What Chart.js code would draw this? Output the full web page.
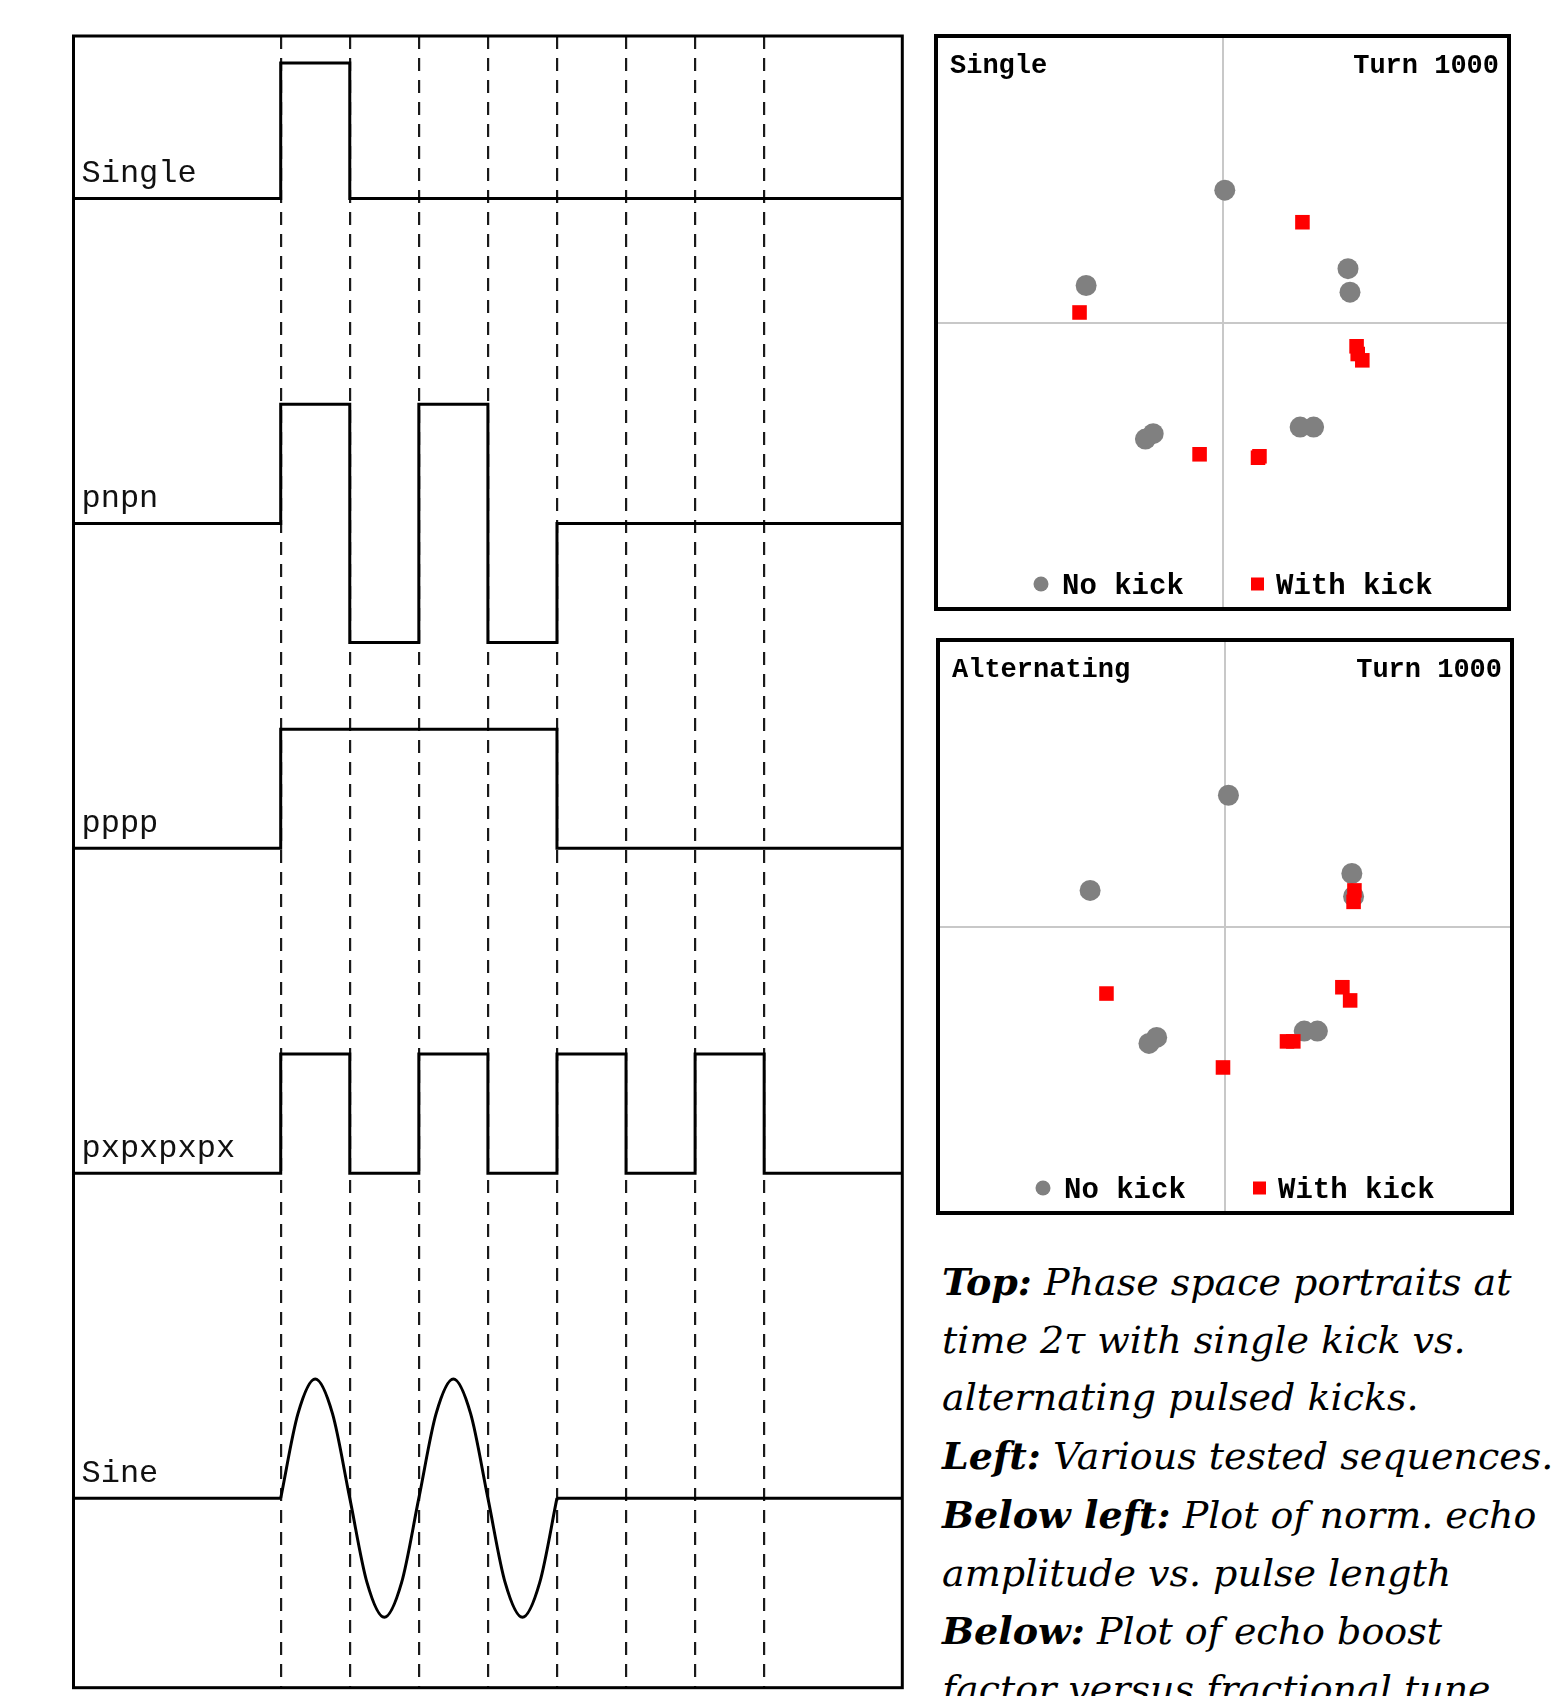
<!DOCTYPE html>
<html>
<head>
<meta charset="utf-8">
<script src="https://cdn.jsdelivr.net/npm/chart.js@4.4.1/dist/chart.umd.min.js"></script>
<style>
  html, body { margin: 0; padding: 0; background: #fff; overflow: hidden; }
  body { width: 1554px; height: 1696px; position: relative; }
  .box { position: absolute; }
  #seqBox { left: 70px; top: 32px; width: 836px; height: 1660px; }
  #singleBox { left: 932px; top: 32px; width: 581px; height: 581px; }
  #altBox { left: 934px; top: 636px; width: 582px; height: 581px; }
  #caption {
    position: absolute; left: 942px; top: 1253px;
    font: italic 38px "DejaVu Serif", serif;
    line-height: 57.7px; white-space: nowrap; color: #000;
  }
  #caption b { font-weight: bold; }
</style>
</head>
<body>
<div class="box" id="seqBox"><canvas id="seqChart"></canvas></div>
<div class="box" id="singleBox"><canvas id="singleChart"></canvas></div>
<div class="box" id="altBox"><canvas id="altChart"></canvas></div>
<div id="caption">
  <b>Top:</b> Phase space portraits at<br>
  time 2τ with single kick vs.<br>
  alternating pulsed kicks.<br>
  <b>Left:</b> Various tested sequences.<br>
  <b>Below left:</b> Plot of norm. echo<br>
  amplitude vs. pulse length<br>
  <b>Below:</b> Plot of echo boost<br>
  factor versus fractional tune.
</div>

<script>
// --- Pulse sequences (left panel) ---
// time slots: lead-in, seven pulse intervals between the dashed marks, tail
const SLOT_STARTS = [0, 3, 4, 5, 6, 7, 8, 9, 10];
const TIME_END = 12;
const DASH_TIMES = [3, 4, 5, 6, 7, 8, 9, 10];

const SEQ_NAMES = ['Single', 'pnpn', 'pppp', 'pxpxpxpx', 'Sine'];
const SINGLE_LEVELS = [0, 1.25, 0, 0, 0, 0, 0, 0, 0];
const PNPN_LEVELS = [0, 1.1, -1.1, 1.1, -1.1, 0, 0, 0, 0];
const PPPP_LEVELS = [0, 1.1, 1.1, 1.1, 1.1, 0, 0, 0, 0];
const PXPX_LEVELS = [0, 1.1, 0, 1.1, 0, 1.1, 0, 1.1, 0];

// sine burst, read at eighth-period steps
const SINE_X = [3, 3.25, 3.5, 3.75, 4, 4.25, 4.5, 4.75, 5, 5.25, 5.5, 5.75, 6, 6.25, 6.5, 6.75, 7];
const SINE_Y = [0, 0.78, 1.1, 0.78, 0, -0.78, -1.1, -0.78, 0, 0.78, 1.1, 0.78, 0, -0.78, -1.1, -0.78, 0];

const ROW_SPACING = 3;

// --- Phase space portraits (right panels), [x, y] ---
const SINGLE_NO_KICK = [
  [0.008, 0.462], [-0.476, 0.129], [0.438, 0.188], [0.445, 0.106],
  [-0.269, -0.407], [-0.242, -0.388], [0.271, -0.365], [0.318, -0.365]
];
const SINGLE_WITH_KICK = [
  [0.279, 0.350], [-0.499, 0.035], [0.468, -0.083], [0.472, -0.110],
  [0.488, -0.132], [-0.080, -0.460], [0.129, -0.467], [0.124, -0.472]
];
const ALT_NO_KICK = [
  [0.012, 0.458], [-0.470, 0.126], [0.442, 0.185], [0.448, 0.105],
  [-0.265, -0.408], [-0.238, -0.387], [0.276, -0.365], [0.322, -0.365]
];
const ALT_WITH_KICK = [
  [0.451, 0.126], [0.448, 0.086], [0.409, -0.212], [0.436, -0.258],
  [-0.413, -0.234], [0.216, -0.401], [0.238, -0.401], [-0.007, -0.492]
];

const MONO = '"Liberation Mono", "Courier New", monospace';

// black frame around the plot area
const framePlugin = {
  id: 'frame',
  afterDraw(chart, args, opts) {
    const { ctx, chartArea: a } = chart;
    ctx.save();
    ctx.strokeStyle = '#000';
    ctx.lineWidth = opts.width || 3;
    ctx.strokeRect(a.left, a.top, a.right - a.left, a.bottom - a.top);
    ctx.restore();
  }
};

// sequence names just above each baseline
const rowLabelPlugin = {
  id: 'rowLabels',
  afterDatasetsDraw(chart) {
    const { ctx, chartArea: a, scales: { y } } = chart;
    ctx.save();
    ctx.font = '32px ' + MONO;
    ctx.fillStyle = '#111';
    ctx.textBaseline = 'alphabetic';
    SEQ_NAMES.forEach((name, i) => {
      const base = y.getPixelForValue(rowOffset(i));
      ctx.fillText(name, a.left + 8, base - 16.5);
    });
    ctx.restore();
  }
};

// corner captions + in-plot legend for the phase space panels
const panelTextPlugin = {
  id: 'panelText',
  afterDraw(chart, args, opts) {
    const { ctx, chartArea: a } = chart;
    const ds = chart.data.datasets;
    ctx.save();
    ctx.fillStyle = '#000';
    ctx.font = 'bold 27px ' + MONO;
    ctx.textBaseline = 'alphabetic';
    ctx.textAlign = 'left';
    ctx.fillText(opts.left, a.left + 14, a.top + 37);
    ctx.textAlign = 'right';
    ctx.fillText(opts.right, a.right - 10, a.top + 37);

    const my = a.bottom - 25;
    const ty = a.bottom - 15.5;
    ctx.textAlign = 'left';
    ctx.font = 'bold 29px ' + MONO;
    // No kick (circle)
    ctx.fillStyle = ds[0].backgroundColor;
    ctx.beginPath();
    ctx.arc(a.left + 105, my, 7.5, 0, Math.PI * 2);
    ctx.fill();
    ctx.fillStyle = '#000';
    ctx.fillText(ds[0].label, a.left + 126, ty);
    // With kick (square)
    ctx.fillStyle = ds[1].backgroundColor;
    ctx.fillRect(a.left + 321.5 - 6.5, my - 6.5, 13, 13);
    ctx.fillStyle = '#000';
    ctx.fillText(ds[1].label, a.left + 340, ty);
    ctx.restore();
  }
};

function rowOffset(i) {
  return (SEQ_NAMES.length - 1 - i) * ROW_SPACING;
}

function stepData(levels, offset) {
  const pts = SLOT_STARTS.map((x, k) => ({ x, y: levels[k] + offset }));
  pts.push({ x: TIME_END, y: levels[levels.length - 1] + offset });
  return pts;
}

function traceStyle() {
  return {
    borderColor: '#000',
    borderWidth: 3,
    pointRadius: 0,
    fill: false,
    borderJoinStyle: 'miter',
    borderCapStyle: 'butt'
  };
}

function buildSequenceChart() {
  const levelSets = [SINGLE_LEVELS, PNPN_LEVELS, PPPP_LEVELS, PXPX_LEVELS];
  const datasets = levelSets.map((levels, i) => ({
    label: SEQ_NAMES[i],
    data: stepData(levels, rowOffset(i)),
    stepped: true,
    ...traceStyle()
  }));

  const sineOff = rowOffset(4);
  datasets.push({
    label: 'Sine',
    data: SINE_X.map((x, k) => ({ x, y: SINE_Y[k] + sineOff })),
    cubicInterpolationMode: 'monotone',
    ...traceStyle()
  });
  datasets.push({
    label: 'Sine baseline',
    data: [
      { x: 0, y: sineOff }, { x: SINE_X[0], y: sineOff },
      { x: SINE_X[SINE_X.length - 1], y: null },
      { x: SINE_X[SINE_X.length - 1], y: sineOff }, { x: TIME_END, y: sineOff }
    ],
    spanGaps: false,
    ...traceStyle()
  });

  new Chart(document.getElementById('seqChart'), {
    type: 'line',
    data: { datasets },
    options: {
      responsive: true,
      maintainAspectRatio: false,
      animation: false,
      events: [],
      layout: { autoPadding: false, padding: { left: 3.5, right: 3.7, top: 4, bottom: 4.3 } },
      plugins: {
        legend: { display: false },
        tooltip: { enabled: false },
        frame: { width: 3 }
      },
      scales: {
        x: {
          type: 'linear',
          min: 0,
          max: TIME_END,
          afterBuildTicks: s => { s.ticks = DASH_TIMES.map(v => ({ value: v })); },
          ticks: { display: false },
          grid: { color: '#1a1a1a', lineWidth: 2.2, drawTicks: false },
          border: { display: false, dash: [13, 9] }
        },
        y: {
          type: 'linear',
          min: -1.75,
          max: 13.5,
          display: false
        }
      }
    },
    plugins: [framePlugin, rowLabelPlugin]
  });
}

function buildPortrait(canvasId, title, noKick, withKick) {
  const toPts = arr => arr.map(([x, y]) => ({ x, y }));
  const axis = {
    min: -1,
    max: 1,
    afterBuildTicks: s => { s.ticks = [{ value: 0 }]; },
    ticks: { display: false },
    grid: { color: '#c8c8c8', lineWidth: 2, drawTicks: false },
    border: { display: false }
  };

  new Chart(document.getElementById(canvasId), {
    type: 'scatter',
    data: {
      datasets: [
        {
          label: 'No kick',
          data: toPts(noKick),
          backgroundColor: '#808080',
          borderWidth: 0,
          pointStyle: 'circle',
          pointRadius: 10.5,
          order: 1
        },
        {
          label: 'With kick',
          data: toPts(withKick),
          backgroundColor: '#ff0000',
          borderWidth: 0,
          pointStyle: 'rect',
          pointRadius: 10.3,
          order: 0
        }
      ]
    },
    options: {
      responsive: true,
      maintainAspectRatio: false,
      animation: false,
      events: [],
      layout: { autoPadding: false, padding: 4 },
      plugins: {
        legend: { display: false },
        tooltip: { enabled: false },
        frame: { width: 4 },
        panelText: { left: title, right: 'Turn 1000' }
      },
      scales: { x: { ...axis }, y: { ...axis } }
    },
    plugins: [framePlugin, panelTextPlugin]
  });
}

buildSequenceChart();
buildPortrait('singleChart', 'Single', SINGLE_NO_KICK, SINGLE_WITH_KICK);
buildPortrait('altChart', 'Alternating', ALT_NO_KICK, ALT_WITH_KICK);
</script>
</body>
</html>
